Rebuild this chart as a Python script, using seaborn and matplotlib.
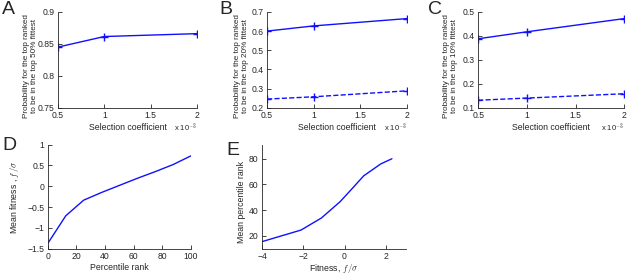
import matplotlib
matplotlib.use("Agg")
import matplotlib.pyplot as plt
import seaborn as sns
import pandas as pd
import numpy as np

sns.set_style("ticks")
plt.rcParams['font.family'] = ['Liberation Sans', 'DejaVu Sans']
plt.rcParams['mathtext.fontset'] = 'cm'

# Data
sel_coef = [0.5e-3, 1e-3, 2e-3]
a_top = [0.845, 0.8615, 0.866]
b_top = [0.600, 0.627, 0.665]
b_rand = [0.246, 0.258, 0.289]
c_top = [0.388, 0.417, 0.472]
c_rand = [0.132, 0.141, 0.159]

d_rank = [0, 12.5, 25, 37.5, 50, 62.5, 75, 87.5, 100]
d_fit = [-1.37, -0.71, -0.335, -0.15, 0.02, 0.19, 0.35, 0.52, 0.73]

e_fit = [-4.0, -2.11, -1.12, -0.22, 0.36, 0.93, 1.76, 2.3]
e_rank = [15.5, 24.5, 33.9, 46.5, 56.6, 66.7, 76.0, 80.0]

BLUE = "#1010ff"
fs_tick = 6.2
fs_lab = 6.3

fig = plt.figure(figsize=(6.3, 2.76), dpi=100)

def style(ax):
    sns.despine(ax=ax)
    ax.tick_params(direction='in', labelsize=fs_tick, length=3, width=0.6, pad=2.5)
    for s in ['left', 'bottom']:
        ax.spines[s].set_linewidth(0.6)

def sel_axes(rect, series, ylim, yticks, ylabel, letter, lx, labx):
    ax = fig.add_axes(rect)
    for vals, ls in series:
        df = pd.DataFrame({"s": sel_coef, "p": vals})
        sns.lineplot(data=df, x="s", y="p", ax=ax, color=BLUE, linestyle=ls,
                     marker='+', markersize=6, markeredgewidth=1,
                     markeredgecolor=BLUE, markerfacecolor=BLUE, linewidth=1)
    ax.set_xlim(0.5e-3, 2e-3)
    ax.set_xticks([0.5e-3, 1e-3, 1.5e-3, 2e-3])
    ax.set_xticklabels(["0.5", "1", "1.5", "2"])
    ax.set_ylim(*ylim)
    ax.set_yticks(yticks)
    ax.set_yticklabels([f"{v:g}" for v in yticks])
    ax.set_xlabel("Selection coefficient", fontsize=fs_lab, labelpad=2)
    ax.set_ylabel(ylabel, fontsize=5.9, linespacing=1.2)
    ax.yaxis.set_label_coords(labx, 0.44)
    style(ax)
    ax.text(1.0, -0.21, "x 10$^{-3}$", transform=ax.transAxes, fontsize=5.5,
            ha='right', va='center')
    fig.text(lx, 0.995, letter, fontsize=14, va='top', ha='left')
    return ax

sel_axes([0.092, 0.609, 0.221, 0.348], [(a_top, '-')], (0.75, 0.9),
         [0.75, 0.8, 0.85, 0.9],
         "Probability for the top ranked\nto be in the top 50% fittest", 'A', 0.003, -0.145)
sel_axes([0.424, 0.609, 0.222, 0.348], [(b_top, '-'), (b_rand, '--')], (0.2, 0.7),
         [0.2, 0.3, 0.4, 0.5, 0.6, 0.7],
         "Probability for the top ranked\nto be in the top 20% fittest", 'B', 0.349, -0.13)
sel_axes([0.759, 0.609, 0.232, 0.348], [(c_top, '-'), (c_rand, '--')], (0.1, 0.5),
         [0.1, 0.2, 0.3, 0.4, 0.5],
         "Probability for the top ranked\nto be in the top 10% fittest", 'C', 0.679, -0.137)

# D
axd = fig.add_axes([0.076, 0.099, 0.227, 0.377])
sns.lineplot(x=d_rank, y=d_fit, ax=axd, color=BLUE, linewidth=1)
axd.set_xlim(0, 100)
axd.set_ylim(-1.5, 1)
axd.set_xticks([0, 20, 40, 60, 80, 100])
axd.set_yticks([-1.5, -1, -0.5, 0, 0.5, 1])
axd.set_yticklabels(["\u22121.5", "\u22121", "\u22120.5", "0", "0.5", "1"])
axd.set_xlabel("Percentile rank", fontsize=fs_lab, labelpad=1.5)
axd.set_ylabel("Mean fitness , $f\\,/\\sigma$", fontsize=fs_lab)
axd.yaxis.set_label_coords(-0.19, 0.5)
style(axd)
fig.text(0.004, 0.503, "D", fontsize=14, va='top', ha='left')

# E
axe = fig.add_axes([0.416, 0.099, 0.229, 0.377])
sns.lineplot(x=e_fit, y=e_rank, ax=axe, color=BLUE, linewidth=1)
axe.set_xlim(-4, 3)
axe.set_ylim(10, 91)
axe.set_xticks([-4, -2, 0, 2])
axe.set_xticklabels(["\u22124", "\u22122", "0", "2"])
axe.set_yticks([20, 40, 60, 80])
axe.set_xlabel("Fitness, $f\\,/\\sigma$", fontsize=fs_lab, labelpad=0.5)
axe.set_ylabel("Mean percentile rank", fontsize=fs_lab)
axe.yaxis.set_label_coords(-0.11, 0.45)
style(axe)
fig.text(0.359, 0.484, "E", fontsize=14, va='top', ha='left')

fig.savefig("out.png", dpi=100)
